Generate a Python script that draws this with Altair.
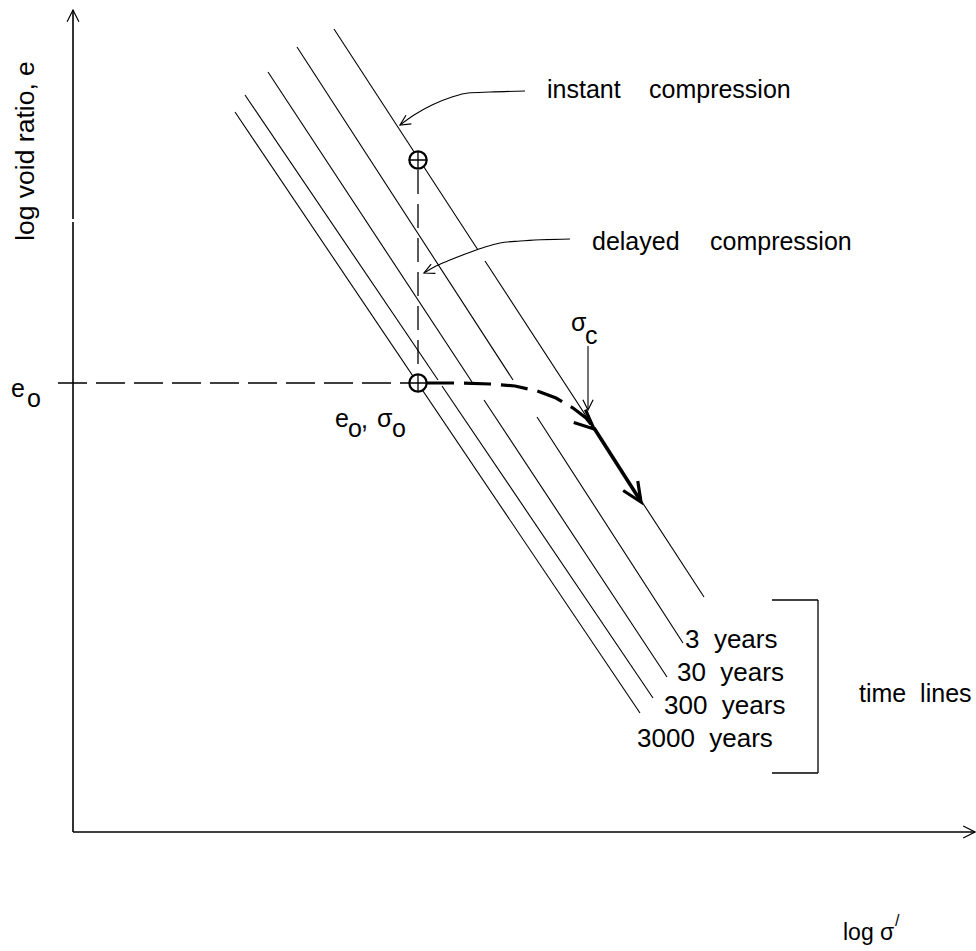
import altair as alt
import pandas as pd

W, H = 976, 951
FONT = "Liberation Sans"

# ---- diagram coordinates (picture units: x to the right, y downward) ----
# time lines: instant compression line + 4 delayed time lines (split where annotations cross)
SEG_LINE = ["instant", "instant", "3 years", "3 years", "30 years", "30 years",
            "300 years", "300 years", "3000 years"]
SEG_X1 = [334, 485, 297, 537, 268, 484, 245, 442, 235]
SEG_Y1 = [29, 261, 47, 417, 72, 400, 95, 386, 112]
SEG_X2 = [478, 704, 513, 683, 472, 667, 438, 653, 640]
SEG_Y2 = [250, 597, 380, 643, 382, 677, 380, 698, 713]

# axes (log sigma' horizontal, log void ratio vertical)
AXIS_X1 = [73, 73, 73]
AXIS_Y1 = [832, 832, 219]
AXIS_X2 = [73, 975, 73]
AXIS_Y2 = [222, 832, 10]

# dashed guides: e0 level and delayed compression drop
GUIDE_X1 = [58, 418]
GUIDE_Y1 = [383, 170]
GUIDE_X2 = [409, 418]
GUIDE_Y2 = [383, 374]

# stress path (dashed, bold) from (e0, sigma0) to sigma_c
PATH_X = [427, 460, 490, 515, 537, 556, 573, 586, 594]
PATH_Y = [383, 383, 384, 386, 391, 398, 408, 418, 428]

# bold continuation along instant line
BOLD_X1, BOLD_Y1, BOLD_X2, BOLD_Y2 = [594], [428], [640], [500]

# callout leaders
INSTANT_X = [525, 490, 468, 452, 432, 414, 400]
INSTANT_Y = [91, 92, 93, 97, 105, 115, 125]
DELAYED_X = [570, 520, 500, 485, 468, 450, 436, 424]
DELAYED_Y = [239, 241, 243, 247, 253, 260, 266, 273]

# sigma_c pointer
SIGC_X1, SIGC_Y1, SIGC_X2, SIGC_Y2 = [588], [346], [588], [409]

# bracket for "time lines"
BR_X1 = [772, 818, 772]
BR_Y1 = [600, 600, 773]
BR_X2 = [818, 818, 818]
BR_Y2 = [600, 773, 773]

# arrow heads
THIN_X = [73, 975, 400, 424, 588]
THIN_Y = [10, 832, 125, 273, 410]
THIN_ANGLE = [270, 0, 148, 155, 90]
THIN_SIZE = [560, 560, 420, 420, 420]
BOLD_HX = [594, 641]
BOLD_HY = [429, 502]
BOLD_ANGLE = [42, 57]

# state points (circles with crosshair)
PT_X = [418, 418]
PT_Y = [160, 383]

# texts (left x, baseline y)
NB = "\u00a0"
TXT = ["instant", "compression", "delayed", "compression",
       "3" + NB + NB + "years", "30" + NB + NB + "years", "300" + NB + NB + "years",
       "3000" + NB + NB + "years", "time" + NB + NB + "lines",
       "e", "o", "σ", "c", "e", "o", ",", "σ", "o", "log σ", "/"]
TXT_X = [547, 649, 592, 710, 685, 677, 664, 637, 859,
         11, 27, 571, 585, 335, 348, 361, 377, 392, 843, 895]
TXT_Y = [98, 98, 250, 250, 648, 681, 714, 747, 702,
         397, 407, 331, 344, 427, 437, 428, 427, 437, 940, 926]
TXT_SIZE = [25, 25, 25, 25, 26, 26, 26, 26, 25,
            25, 25, 25, 25, 25, 25, 25, 25, 25, 23, 16]

YLABEL = ["log void ratio, e"]
YLABEL_X = [34]
YLABEL_Y = [151]

xs = alt.Scale(domain=[0, W])
ys = alt.Scale(domain=[0, H], reverse=True)


def X(f="x"):
    return alt.X(f"{f}:Q", scale=xs, axis=None)


def Y(f="y"):
    return alt.Y(f"{f}:Q", scale=ys, axis=None)


def rules(x1, y1, x2, y2, **kw):
    df = pd.DataFrame({"x": x1, "y": y1, "x2": x2, "y2": y2})
    return alt.Chart(df).mark_rule(color="black", **kw).encode(
        x=X(), y=Y(), x2="x2:Q", y2="y2:Q")


time_lines = rules(SEG_X1, SEG_Y1, SEG_X2, SEG_Y2, strokeWidth=1.1)
axes = rules(AXIS_X1, AXIS_Y1, AXIS_X2, AXIS_Y2, strokeWidth=1.6)
guide_h = rules(GUIDE_X1[:1], GUIDE_Y1[:1], GUIDE_X2[:1], GUIDE_Y2[:1],
                strokeWidth=1.3, strokeDash=[29, 9])
guide_v = rules(GUIDE_X1[1:], GUIDE_Y1[1:], GUIDE_X2[1:], GUIDE_Y2[1:],
                strokeWidth=1.3, strokeDash=[24, 10])
bold = rules(BOLD_X1, BOLD_Y1, BOLD_X2, BOLD_Y2, strokeWidth=3.6)
sigc = rules(SIGC_X1, SIGC_Y1, SIGC_X2, SIGC_Y2, strokeWidth=1.1)
bracket = rules(BR_X1, BR_Y1, BR_X2, BR_Y2, strokeWidth=1.3)

path_df = pd.DataFrame({"x": PATH_X, "y": PATH_Y, "o": list(range(len(PATH_X)))})
path = alt.Chart(path_df).mark_line(color="black", strokeWidth=3.2,
                                    strokeDash=[27, 10]).encode(
    x=X(), y=Y(), order="o:Q")

lead_df = pd.DataFrame({
    "x": INSTANT_X + DELAYED_X,
    "y": INSTANT_Y + DELAYED_Y,
    "g": ["instant"] * len(INSTANT_X) + ["delayed"] * len(DELAYED_X),
    "o": list(range(len(INSTANT_X))) + list(range(len(DELAYED_X))),
})
leaders = alt.Chart(lead_df).mark_line(color="black", strokeWidth=1.1,
                                       interpolate="monotone").encode(
    x=X(), y=Y(), detail="g:N", order="o:Q")

thin_df = pd.DataFrame({"x": THIN_X, "y": THIN_Y, "a": THIN_ANGLE, "s": THIN_SIZE})
thin_heads = alt.Chart(thin_df).mark_point(
    shape="M-1,-0.5L0,0L-1,0.5", filled=False, stroke="black", strokeWidth=1.2,
    opacity=1).encode(x=X(), y=Y(), angle=alt.Angle("a:Q", scale=None),
                      size=alt.Size("s:Q", scale=None, legend=None))

bold_df = pd.DataFrame({"x": BOLD_HX, "y": BOLD_HY, "a": BOLD_ANGLE})
bold_heads = alt.Chart(bold_df).mark_point(
    shape="M-1,-0.45L0,0L-1,0.45", filled=False, stroke="black", strokeWidth=3.2,
    opacity=1, size=1500).encode(x=X(), y=Y(), angle=alt.Angle("a:Q", scale=None))

pt_df = pd.DataFrame({"x": PT_X, "y": PT_Y})
circles = alt.Chart(pt_df).mark_point(
    shape="circle", filled=True, fill="white", stroke="black", strokeWidth=2.2,
    size=300, opacity=1).encode(x=X(), y=Y())
crosses = alt.Chart(pt_df).mark_point(
    shape="M-1,0L1,0M0,-1L0,1", filled=False, stroke="black", strokeWidth=1.3,
    size=330, opacity=1).encode(x=X(), y=Y())

txt_df = pd.DataFrame({"t": TXT, "x": TXT_X, "y": TXT_Y, "s": TXT_SIZE})
texts = alt.Chart(txt_df).mark_text(
    align="left", baseline="alphabetic", font=FONT, color="black").encode(
    x=X(), y=Y(), text="t:N", size=alt.Size("s:Q", scale=None, legend=None))

ylab_df = pd.DataFrame({"t": YLABEL, "x": YLABEL_X, "y": YLABEL_Y})
ylab = alt.Chart(ylab_df).mark_text(
    align="center", baseline="alphabetic", font=FONT, fontSize=26.5, angle=270,
    color="black").encode(x=X(), y=Y(), text="t:N")

chart = alt.layer(
    time_lines, axes, guide_h, guide_v, path, bold, leaders, sigc, bracket,
    thin_heads, bold_heads, circles, crosses, texts, ylab
).properties(
    width=W, height=H, padding=0, background="white",
    autosize=alt.AutoSizeParams(type="none")
).configure_view(strokeWidth=0)

chart.save("out.html", embed_options={"renderer": "svg", "actions": False})
